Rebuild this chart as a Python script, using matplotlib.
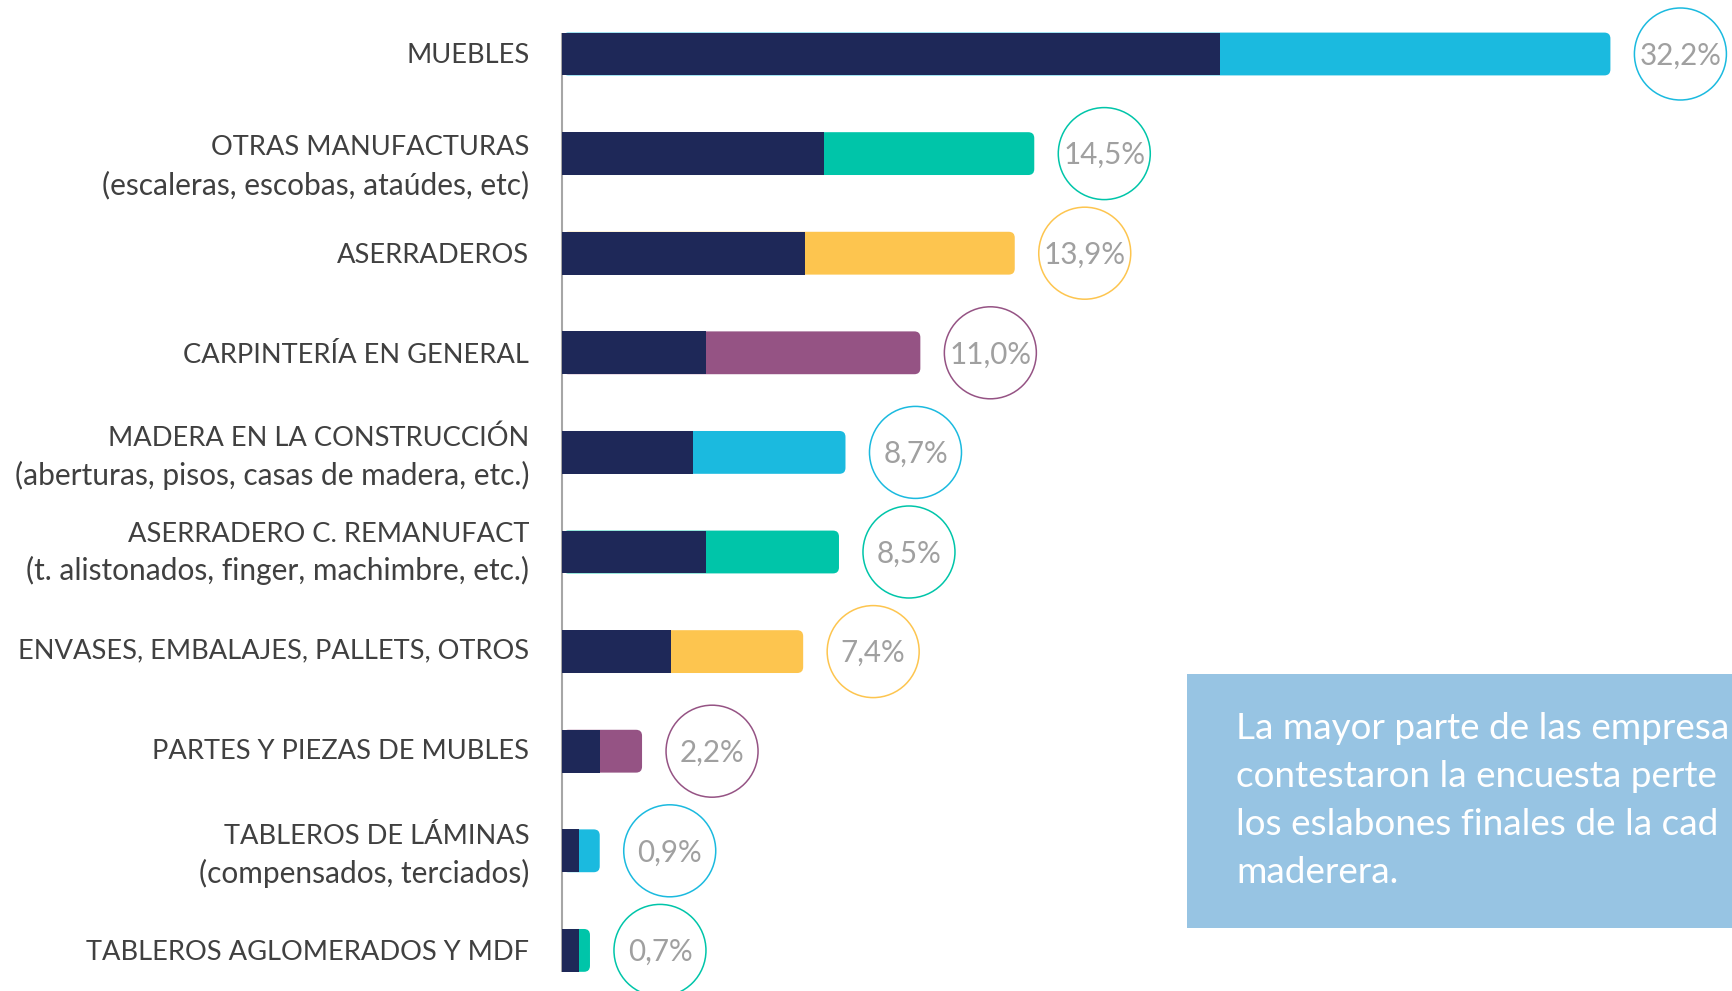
import matplotlib
matplotlib.use("Agg")
import matplotlib.pyplot as plt
from matplotlib.patches import FancyBboxPatch, Rectangle

# ---------------- data ----------------
categories = ["MUEBLES", "OTRAS MANUFACTURAS", "ASERRADEROS", "CARPINTERÍA EN GENERAL",
              "MADERA EN LA CONSTRUCCIÓN", "ASERRADERO C. REMANUFACT",
              "ENVASES, EMBALAJES, PALLETS, OTROS", "PARTES Y PIEZAS DE MUBLES",
              "TABLEROS DE LÁMINAS", "TABLEROS AGLOMERADOS Y MDF"]
subtitles = ["", "(escaleras, escobas, ataúdes, etc)", "", "",
             "(aberturas, pisos, casas de madera, etc.)",
             "(t. alistonados, finger, machimbre, etc.)", "", "",
             "(compensados, terciados)", ""]
bar_total = [32.2, 14.5, 13.9, 11.0, 8.7, 8.5, 7.4, 2.45, 1.15, 0.85]
dark_part = [20.2, 8.05, 7.45, 4.4, 4.0, 4.4, 3.35, 1.15, 0.5, 0.5]
pct_labels = ["32,2%", "14,5%", "13,9%", "11,0%", "8,7%", "8,5%", "7,4%", "2,2%", "0,9%", "0,7%"]
accent_colors = ["#1BBADF", "#00C5A9", "#FDC54F", "#955384", "#1BBADF",
                 "#00C5A9", "#FDC54F", "#955384", "#1BBADF", "#00C5A9"]
note_lines = ["La mayor parte de las empresas que",
              "contestaron la encuesta pertenecen a",
              "los eslabones finales de la cadena",
              "maderera."]

# ---------------- layout ----------------
W, H, DPI = 1732, 991, 100
NAVY = "#1E2858"
FONT = ["Lato", "DejaVu Sans"]
plt.rcParams["font.family"] = FONT

AX_L = 562.3          # x pixel of axis line
PX_X = 32.55          # pixels per percent
PX_Y = 99.6           # pixels per category
Y0 = 54.0             # pixel (from top) of first bar centre
BAR_H = 0.43
label_dy = [-1, 11, 0, 0, 3, -1, -3, -2, 3, 0]   # pixel tweaks (down positive)
CAP_FS, SUB_FS, PCT_FS, NOTE_FS = 19.6, 21.5, 21.3, 26.6

fig = plt.figure(figsize=(W / DPI, H / DPI), dpi=DPI)
fig.patch.set_facecolor("white")
ax = fig.add_axes([AX_L / W, 0, (W - AX_L) / W, 1])
ax.set_xlim(0, (W - AX_L) / PX_X)
ymax = (H - Y0) / PX_Y
ax.set_ylim(ymax, -Y0 / PX_Y)
ax.axis("off")

n = len(categories)
# axis line (from first bar top to last bar bottom)
ax.vlines(0, -BAR_H / 2, (n - 1) + BAR_H / 2, color="#A6A6A6", linewidth=1.5,
          zorder=1, clip_on=False)

for i, (tot, dk, col) in enumerate(zip(bar_total, dark_part, accent_colors)):
    patch = FancyBboxPatch((0, i - BAR_H / 2), tot, BAR_H,
                           boxstyle=f"round,pad=0,rounding_size={6 / PX_X}",
                           mutation_aspect=PX_X / PX_Y,
                           facecolor=col, edgecolor="none", zorder=2)
    ax.add_patch(patch)
ax.barh(range(n), dark_part, height=BAR_H, color=NAVY, zorder=3)

# circles with percentages
cx = [t + 70 / PX_X for t in bar_total]
r_pt = 46 * 72 / DPI
ax.scatter(cx, range(n), s=(2 * r_pt) ** 2, facecolors="none",
           edgecolors=accent_colors, linewidths=1.1, clip_on=False, zorder=4)
for i, (x, lab) in enumerate(zip(cx, pct_labels)):
    ax.annotate(lab, xy=(x, i), xytext=(0, -10.5), textcoords="offset pixels",
                ha="center", va="baseline", fontsize=PCT_FS, color="#A0A0A0",
                annotation_clip=False, zorder=5)

# category labels
for i, (cat, sub) in enumerate(zip(categories, subtitles)):
    d = label_dy[i]
    if sub:
        lines = [(cat, -19.4 + d, CAP_FS), (sub, 19.4 + d, SUB_FS)]
    else:
        lines = [(cat, d, CAP_FS)]
    for txt, dy, fs in lines:
        ax.annotate(txt, xy=(0, i), xytext=(-33, -(dy + 10)), textcoords="offset pixels",
                    ha="right", va="baseline", fontsize=fs, color="#404040",
                    annotation_clip=False)

# note box (runs off the right edge, as in the original slide)
fig.add_artist(Rectangle((1187 / W, (H - 928) / H), (W - 1187) / W + 0.01, (928 - 674) / H,
                         transform=fig.transFigure, facecolor="#97C4E3",
                         edgecolor="none", zorder=0))
renderer = fig.canvas.get_renderer()
for k, line in enumerate(note_lines):
    t = fig.text(1236 / W, (H - (739 + 48 * k)) / H, line, ha="left", va="baseline",
                 fontsize=NOTE_FS, color="white", zorder=1)
    # the slide crops this text at the right edge: keep only what fits
    s = line
    while s and t.get_window_extent(renderer).x1 > W - 1:
        s = s[:-1]
        t.set_text(s)

fig.savefig("out.png", dpi=DPI)
